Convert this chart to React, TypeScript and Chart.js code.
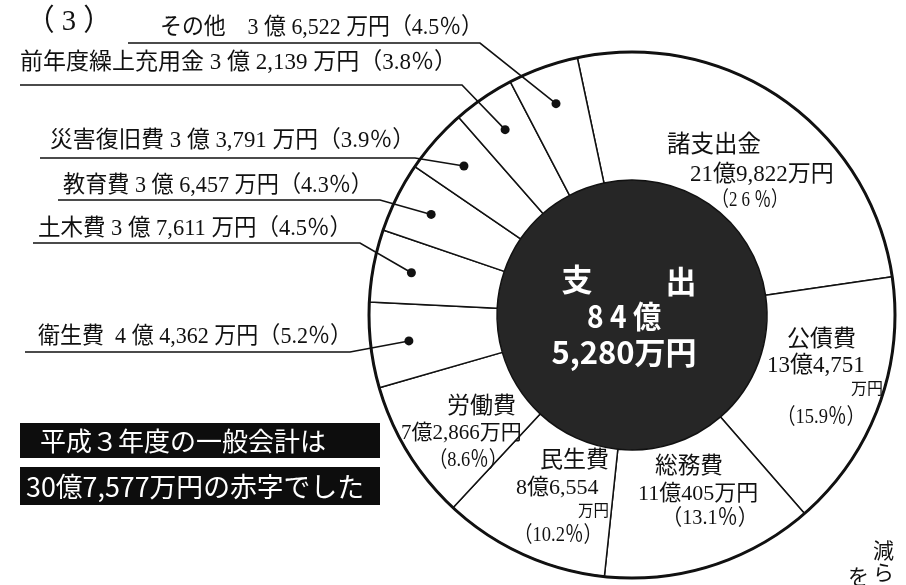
import React, { useEffect, useRef } from "react";
import { Chart, registerables } from "chart.js";

Chart.register(...registerables);

// 歳出（万円）
const categories = [
  "諸支出金",
  "公債費",
  "総務費",
  "民生費",
  "労働費",
  "衛生費",
  "土木費",
  "教育費",
  "災害復旧費",
  "前年度繰上充用金",
  "その他",
];
const amounts = [219822, 134751, 110405, 86554, 72866, 44362, 37611, 36457, 33791, 32139, 36522];
const percentLabels = ["26", "15.9", "13.1", "10.2", "8.6", "5.2", "4.5", "4.3", "3.9", "3.8", "4.5"];
const totalAmount = 845280;
const centerLines = ["支", "出", "8 4 億", "5,280万円"];
const deficitLines = ["平成３年度の一般会計は", "30億7,577万円の赤字でした"];
const sectionTitle = "（ 3 ）";

const SERIF = '"Liberation Serif", "Noto Sans CJK JP", serif';
const GOTHIC = '"Noto Sans CJK JP", sans-serif';

function oku(v: number) {
  return Math.floor(v / 10000);
}
function man(v: number) {
  return (v % 10000).toLocaleString("en-US");
}
function amountText(v: number) {
  return `${oku(v)} 億 ${man(v)} 万円`;
}

// left-side labels with leaders: index -> layout
const outerLayout: Record<number, { x: number; y: number; w: number; u1: number; u2: number; uy: number; sep: string }> = {
  5: { x: 38, y: 337, w: 314, u1: 25, u2: 350, uy: 352, sep: "  " },
  6: { x: 38, y: 229, w: 314, u1: 33, u2: 360, uy: 243, sep: " " },
  7: { x: 63, y: 186, w: 310, u1: 58, u2: 380, uy: 200, sep: " " },
  8: { x: 50, y: 141, w: 365, u1: 40, u2: 415, uy: 158, sep: " " },
  9: { x: 20, y: 63, w: 442, u1: 20, u2: 462, uy: 85, sep: " " },
  10: { x: 160, y: 28, w: 323, u1: 128, u2: 480, uy: 43, sep: "　" },
};

function txt(
  ctx: CanvasRenderingContext2D,
  s: string,
  x: number,
  y: number,
  font: string,
  maxW?: number,
  align: CanvasTextAlign = "left",
  color = "#111"
) {
  ctx.font = font;
  ctx.fillStyle = color;
  ctx.textAlign = align;
  ctx.textBaseline = "middle";
  if (maxW) ctx.fillText(s, x, y, maxW);
  else ctx.fillText(s, x, y);
}

const labelPlugin = {
  id: "pageLabels",
  afterDatasetsDraw(chart: any) {
    const ctx: CanvasRenderingContext2D = chart.ctx;
    const meta = chart.getDatasetMeta(0);
    const a0 = meta.data[0] as any;
    const cx = a0.x;
    const cy = a0.y;
    const R = a0.outerRadius;
    const r = a0.innerRadius;
    ctx.save();

    // thick outer rim
    ctx.beginPath();
    ctx.arc(cx, cy, R, 0, Math.PI * 2);
    ctx.lineWidth = 3;
    ctx.strokeStyle = "#111";
    ctx.stroke();

    // section title
    txt(ctx, sectionTitle, 26, 22, `30px ${SERIF}`, 86);

    // outer labels with underline + leader + dot
    Object.keys(outerLayout).forEach((k) => {
      const i = Number(k);
      const L = outerLayout[i];
      const s = `${categories[i]}${L.sep}${amountText(amounts[i])}（${percentLabels[i]}％）`;
      txt(ctx, s, L.x, L.y, `23px ${SERIF}`, L.w);
      const arc = meta.data[i] as any;
      const mid = (arc.startAngle + arc.endAngle) / 2;
      const dr = r + 0.7 * (R - r);
      const dx = cx + Math.cos(mid) * dr;
      const dy = cy + Math.sin(mid) * dr;
      ctx.strokeStyle = "#111";
      ctx.lineWidth = 1.6;
      ctx.beginPath();
      ctx.moveTo(L.u1, L.uy);
      ctx.lineTo(L.u2, L.uy);
      ctx.lineTo(dx, dy);
      ctx.stroke();
      ctx.beginPath();
      ctx.arc(dx, dy, 4.5, 0, Math.PI * 2);
      ctx.fillStyle = "#111";
      ctx.fill();
    });

    // inside labels
    const f = (n: number) => `${n}px ${SERIF}`;
    // 諸支出金
    txt(ctx, categories[0], 667, 146, f(24), 94);
    txt(ctx, `${oku(amounts[0])}億${man(amounts[0])}万円`, 690, 175, f(23), 148);
    txt(ctx, `（2 6 ％）`, 712, 200, f(21), 76);
    // 公債費
    txt(ctx, categories[1], 787, 340, f(23), 70);
    txt(ctx, `${oku(amounts[1])}億${man(amounts[1])}`, 767, 366, f(23), 104);
    txt(ctx, "万円", 851, 390, f(16), 34);
    txt(ctx, `（${percentLabels[1]}％）`, 777, 417, f(22), 88);
    // 総務費
    txt(ctx, categories[2], 655, 467, f(23), 68);
    txt(ctx, `${oku(amounts[2])}億${man(amounts[2])}万円`, 638, 494, f(22), 126);
    txt(ctx, `（${percentLabels[2]}％）`, 662, 518, f(22), 96);
    // 民生費
    txt(ctx, categories[3], 540, 461, f(23), 69);
    txt(ctx, `${oku(amounts[3])}億${man(amounts[3])}`, 516, 488, f(22), 88);
    txt(ctx, "万円", 578, 512, f(16), 31);
    txt(ctx, `（${percentLabels[3]}％）`, 514, 535, f(22), 88);
    // 労働費
    txt(ctx, categories[4], 447, 407, f(23), 69);
    txt(ctx, `${oku(amounts[4])}億${man(amounts[4])}万円`, 401, 433, f(21), 124);
    txt(ctx, `（${percentLabels[4]}％）`, 429, 460, f(22), 78);

    // center text
    const cf = `bold 31px ${GOTHIC}`;
    txt(ctx, centerLines[0], cx - 55, 279, cf, undefined, "center", "#fff");
    txt(ctx, centerLines[1], cx + 49, 281, cf, undefined, "center", "#fff");
    txt(ctx, centerLines[2], cx - 8, 316, cf, 74, "center", "#fff");
    txt(ctx, centerLines[3], cx - 8, 352, cf, 154, "center", "#fff");

    // deficit boxes
    ctx.fillStyle = "#0d0d0d";
    ctx.fillRect(20, 423, 360, 35);
    ctx.fillRect(20, 467, 360, 38);
    txt(ctx, deficitLines[0], 40, 441, `26px ${GOTHIC}`, 294, "left", "#fff");
    txt(ctx, deficitLines[1], 26, 487, `27px ${GOTHIC}`, 338, "left", "#fff");

    // page-edge fragments
    txt(ctx, "減", 873, 552, f(21));
    txt(ctx, "ら", 873, 574, f(21));
    txt(ctx, "を", 848, 578, f(21));

    ctx.restore();
  },
};

export default function App() {
  const ref = useRef<HTMLCanvasElement | null>(null);
  useEffect(() => {
    document.body.style.margin = "0";
    if (!ref.current) return;
    const chart = new Chart(ref.current, {
      type: "doughnut",
      data: {
        labels: categories,
        datasets: [
          {
            data: amounts,
            backgroundColor: "#ffffff",
            borderColor: "#111111",
            borderWidth: 1.5,
            weight: 128,
          } as any,
          {
            data: [totalAmount],
            backgroundColor: "#262626",
            borderColor: "#1a1a1a",
            borderWidth: 0,
            weight: 135,
          } as any,
        ],
      },
      options: {
        animation: false,
        responsive: false,
        rotation: -12,
        cutout: 0,
        radius: 263,
        layout: { padding: { left: 358, right: 0, top: 50, bottom: 5 } },
        plugins: {
          legend: { display: false },
          tooltip: { enabled: false },
        },
      } as any,
      plugins: [labelPlugin as any],
    });
    return () => chart.destroy();
  }, []);
  return (
    <div style={{ width: 906, height: 585, background: "#fff" }}>
      <canvas ref={ref} width={906} height={585} style={{ display: "block" }} />
    </div>
  );
}
